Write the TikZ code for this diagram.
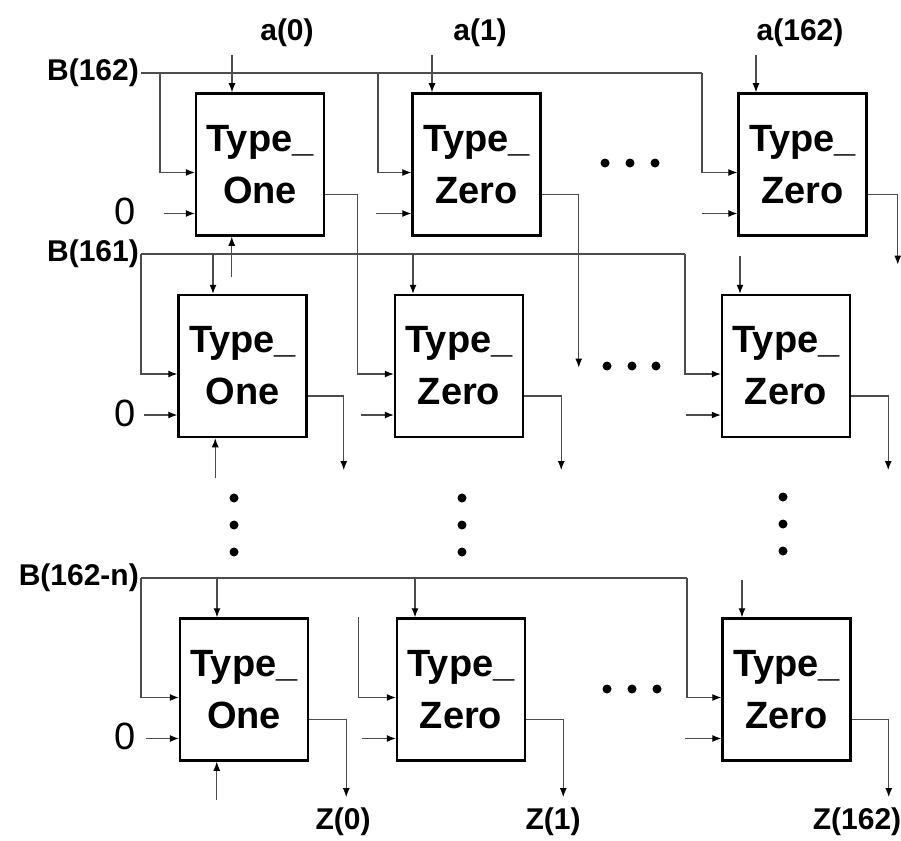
\documentclass[tikz,border=0pt]{standalone}
\usepackage{fontspec}
\setmainfont{Liberation Sans}
\usetikzlibrary{arrows.meta, calc}

\begin{document}
\begin{tikzpicture}[
    x=1pt, y=-1pt,
    >={Latex[length=9pt,width=7pt,color=black]},
    cell/.style={draw, rectangle, line width=2.5pt, minimum width=128pt, minimum height=142pt, inner sep=0pt, align=center, font=\bfseries\fontsize{38}{52}\selectfont},
    lbl/.style={inner sep=2pt, font=\bfseries\fontsize{30}{36}\selectfont},
    zin/.style={inner sep=1pt, font=\fontsize{38}{44}\selectfont},
    wire/.style={line width=1.1pt, black!70}
]
    \useasboundingbox (0,0) rectangle (901,840);

    % first row
    \node[cell] (one1) at (260,164.5) {Type\_\\One};
    \node[cell] (zero1) at (476.5,164.5) {Type\_\\Zero};
    \node[cell] (zlast1) at (802.5,164.5) {Type\_\\Zero};

    \node[lbl] (a0) at (287,33) {a(0)};
    \node[lbl] (a1) at (480,33) {a(1)};
    \node[lbl] (a162) at (800,33) {a(162)};
    \node[lbl, anchor=east] (b162) at (141,73) {B(162)};
    \node[zin] (c1) at (125,211) {0};

    \coordinate (ta0) at (232,55);
    \coordinate (ta1) at (432,55);
    \coordinate (ta162) at (756,55);
    \draw[wire,->] (ta0) -- (ta0 |- one1.north);
    \draw[wire,->] (ta1) -- (ta1 |- zero1.north);
    \draw[wire,->] (ta162) -- (ta162 |- zlast1.north);

    \coordinate (j11) at (160,73);
    \coordinate (j12) at (378,73);
    \coordinate (j13) at (702,73);
    \draw[wire] (b162.east) -- (j13);
    \draw[wire,->] (j11) |- ($(one1.west)+(0,8)$);
    \draw[wire,->] (j12) |- ($(zero1.west)+(0,8)$);
    \draw[wire,->] (j13) |- ($(zlast1.west)+(0,8)$);

    \draw[wire,->] ([xshift=27pt]c1.east |- one1.west) ++(0,49) -- ($(one1.west)+(0,49)$);
    \draw[wire,->] ($(zero1.west)+(-35,49)$) -- ($(zero1.west)+(0,49)$);
    \draw[wire,->] ($(zlast1.west)+(-35,49)$) -- ($(zlast1.west)+(0,49)$);

    \draw[wire,->] ($(zero1.east)+(0,30)$) -| ($(zero1.east)+(37,203)$);
    \draw[wire,->] ($(zlast1.east)+(0,30)$) -| ($(zlast1.east)+(30,100)$);
    \draw[wire,->] ($(one1.south west)+(37,40)$) -- ($(one1.south west)+(37,0)$);

    \fill (605,163) circle[radius=4.5pt] (630,163) circle[radius=4.5pt] (655,163) circle[radius=4.5pt];

    % second row
    \node[cell] (one2) at (242.5,366) {Type\_\\One};
    \node[cell] (zero2) at (459,366) {Type\_\\Zero};
    \node[cell] (zlast2) at (786,366) {Type\_\\Zero};

    \node[lbl, anchor=east] (b161) at (141,254) {B(161)};
    \node[zin] (c2) at (125,413) {0};

    \draw[wire,->] ($(one1.east)+(0,30)$) -| ($(zero2.west)+(-36,8)$) -- ($(zero2.west)+(0,8)$);

    \coordinate (j22) at (213,254);
    \coordinate (j23) at (413,254);
    \coordinate (j24) at (685,254);
    \coordinate (t2) at (740,256);
    \draw[wire] (b161.east) -- (j24);
    \draw[wire,->] (b161.east) |- ($(one2.west)+(0,8)$);
    \draw[wire,->] (j22) -- (j22 |- one2.north);
    \draw[wire,->] (j23) -- (j23 |- zero2.north);
    \draw[wire,->] (j24) |- ($(zlast2.west)+(0,8)$);
    \draw[wire,->] (t2) -- (t2 |- zlast2.north);

    \draw[wire,->] ($(one2.west)+(-33,49)$) -- ($(one2.west)+(0,49)$);
    \draw[wire,->] ($(zero2.west)+(-33,49)$) -- ($(zero2.west)+(0,49)$);
    \draw[wire,->] ($(zlast2.west)+(-35,49)$) -- ($(zlast2.west)+(0,49)$);

    \draw[wire,->] ($(one2.east)+(0,30)$) -| ($(one2.east)+(36,104)$);
    \draw[wire,->] ($(zero2.east)+(0,30)$) -| ($(zero2.east)+(37,104)$);
    \draw[wire,->] ($(zlast2.east)+(0,30)$) -| ($(zlast2.east)+(37,104)$);
    \draw[wire,->] ($(one2.south west)+(38,40)$) -- ($(one2.south west)+(38,0)$);

    \fill (607,366) circle[radius=4.5pt] (632,366) circle[radius=4.5pt] (656,366) circle[radius=4.5pt];

    % vertical dots
    \fill (234,498) circle[radius=4.5pt] (234,525) circle[radius=4.5pt] (234,552) circle[radius=4.5pt];
    \fill (462,498) circle[radius=4.5pt] (462,525) circle[radius=4.5pt] (462,552) circle[radius=4.5pt];
    \fill (783,497) circle[radius=4.5pt] (783,524) circle[radius=4.5pt] (783,551) circle[radius=4.5pt];

    % last row
    \node[cell] (one3) at (244,689.5) {Type\_\\One};
    \node[cell] (zero3) at (461,689.5) {Type\_\\Zero};
    \node[cell] (zlast3) at (786.5,689.5) {Type\_\\Zero};

    \node[lbl, anchor=east] (b162n) at (141,578) {B(162-n)};
    \node[zin] (c3) at (125,736) {0};

    \coordinate (j32) at (217,578);
    \coordinate (j33) at (415,578);
    \coordinate (j34) at (687,578);
    \coordinate (t3) at (742,580);
    \draw[wire] (b162n.east) -- (j34);
    \draw[wire,->] (b162n.east) |- ($(one3.west)+(0,8)$);
    \draw[wire,->] (j32) -- (j32 |- one3.north);
    \draw[wire,->] (j33) -- (j33 |- zero3.north);
    \draw[wire,->] (j34) |- ($(zlast3.west)+(0,8)$);
    \draw[wire,->] (t3) -- (t3 |- zlast3.north);
    \draw[wire,->] ($(zero3.north west)+(-37,0)$) |- ($(zero3.west)+(0,8)$);

    \draw[wire,->] ($(one3.west)+(-33,49)$) -- ($(one3.west)+(0,49)$);
    \draw[wire,->] ($(zero3.west)+(-34,49)$) -- ($(zero3.west)+(0,49)$);
    \draw[wire,->] ($(zlast3.west)+(-36,49)$) -- ($(zlast3.west)+(0,49)$);

    \node[lbl] (z0) at (343,822) {Z(0)};
    \node[lbl] (z1) at (553,822) {Z(1)};
    \node[lbl] (z162) at (857,822) {Z(162)};
    \draw[wire,->] ($(one3.east)+(0,30)$) -| ($(one3.east)+(37,107.5)$);
    \draw[wire,->] ($(zero3.east)+(0,30)$) -| ($(zero3.east)+(37,107.5)$);
    \draw[wire,->] ($(zlast3.east)+(0,30)$) -| ($(zlast3.east)+(37,107.5)$);
    \draw[wire,->] ($(one3.south west)+(38,38)$) -- ($(one3.south west)+(38,0)$);

    \fill (607,689) circle[radius=4.5pt] (632,689) circle[radius=4.5pt] (657,689) circle[radius=4.5pt];
\end{tikzpicture}
\end{document}
